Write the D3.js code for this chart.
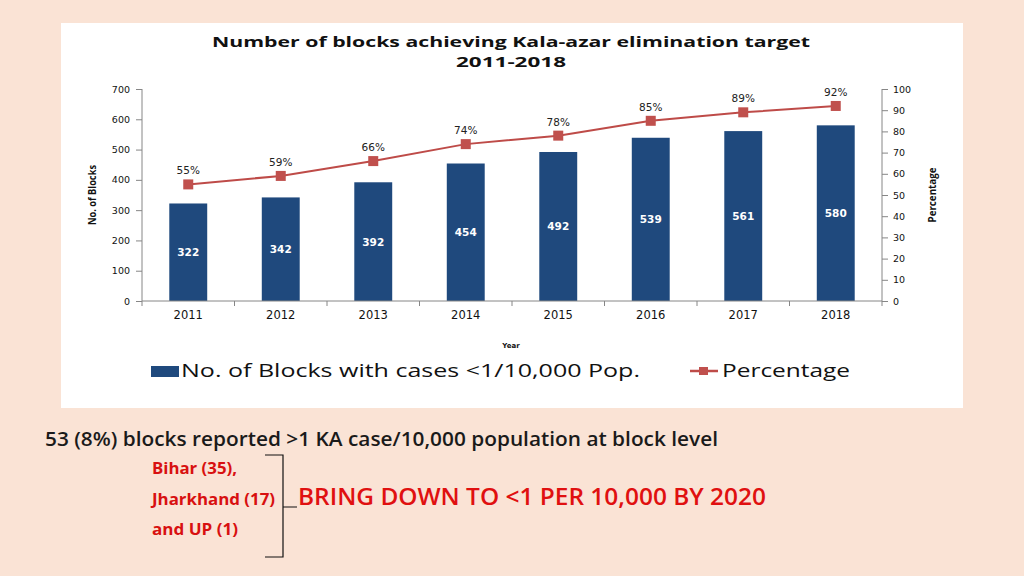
<!DOCTYPE html>
<html><head><meta charset="utf-8">
<script src="https://cdn.jsdelivr.net/npm/d3@7"></script>
<style>body{margin:0;background:#fae3d5;}svg{display:block;}</style>
</head><body><svg id="c" width="1024" height="576"></svg>
<script>
const years = ["2011","2012","2013","2014","2015","2016","2017","2018"];
const blocks = [322,342,392,454,492,539,561,580];
const percentage = [55,59,66,74,78,85,89,92];
const leftTicks = [0,100,200,300,400,500,600,700];
const rightTicks = [0,10,20,30,40,50,60,70,80,90,100];
const titleLines = ["Number of blocks achieving Kala-azar elimination target","2011-2018"];
const stateLines = ["Bihar (35),","Jharkhand (17)","and UP (1)"];

const svg = d3.select("#c");
svg.append("rect").attr("width",1024).attr("height",576).attr("fill","#fae3d5");
svg.append("rect").attr("x",61).attr("y",23).attr("width",902).attr("height",385).attr("fill","#ffffff");

const x = d3.scaleBand().domain(years).range([142,882]).paddingInner(0.59).paddingOuter(0.295);
const xb = d3.scaleBand().domain(years).range([142,882]);
const yL = d3.scaleLinear().domain([0,700]).range([301,89]);
const yR = d3.scaleLinear().domain([0,100]).range([301,89]);

// title
svg.append("g").selectAll("text").data(titleLines).join("text")
  .attr("x",511).attr("y",(d,i)=>47+i*20).attr("text-anchor","middle")
  .attr("font-family","Open Sans, sans-serif").attr("font-weight","bold").attr("font-size",15)
  .attr("fill","#111")
  .attr("textLength",(d,i)=>i===0?598:110).attr("lengthAdjust","spacingAndGlyphs")
  .text(d=>d);

// bars
svg.append("g").selectAll("rect").data(blocks).join("rect")
  .attr("x",(d,i)=>x(years[i])).attr("width",x.bandwidth())
  .attr("y",d=>yL(d)).attr("height",d=>yL(0)-yL(d)).attr("fill","#1f497d");
svg.append("g").selectAll("text").data(blocks).join("text")
  .attr("x",(d,i)=>x(years[i])+x.bandwidth()/2).attr("y",d=>(yL(d)+yL(0))/2+4)
  .attr("text-anchor","middle").attr("font-family","DejaVu Sans, Verdana, sans-serif")
  .attr("font-weight","bold").attr("font-size",10.5).attr("fill","#fff").text(d=>d);

// axes
const axL = d3.axisLeft(yL).tickValues(leftTicks).tickSize(6).tickPadding(6);
const gL = svg.append("g").attr("transform","translate(142,0)").call(axL);
const axR = d3.axisRight(yR).tickValues(rightTicks).tickSize(6).tickPadding(5);
const gR = svg.append("g").attr("transform","translate(882,0)").call(axR);
const axB = d3.axisBottom(xb).tickSize(0).tickPadding(10);
const gB = svg.append("g").attr("transform","translate(0,301)").call(axB);
gB.selectAll(".tick line").remove();
gB.append("g").selectAll("line").data(years.concat(["end"])).join("line")
  .attr("x1",(d,i)=>142+i*xb.step()).attr("x2",(d,i)=>142+i*xb.step())
  .attr("y1",0).attr("y2",5).attr("stroke","#868686");
[gL,gR,gB].forEach(g=>{
  g.select(".domain").attr("stroke","#868686");
  g.selectAll(".tick line").attr("stroke","#868686");
  g.selectAll("text").attr("font-family","DejaVu Sans, Verdana, sans-serif").attr("fill","#111");
});
gL.selectAll("text").attr("font-size",9.5);
gR.selectAll("text").attr("font-size",9.5);
gB.selectAll("text").attr("font-size",11.5);
gL.select(".domain").attr("d","M0,89V301");
gR.select(".domain").attr("d","M0,89V301");
gB.select(".domain").attr("d","M142,0H882");

// axis titles
svg.append("text").attr("transform","translate(96,195) rotate(-90)").attr("text-anchor","middle")
  .attr("font-family","Liberation Sans Narrow, Open Sans, sans-serif").attr("font-weight","bold")
  .attr("font-size",11).attr("fill","#111").attr("textLength",60).attr("lengthAdjust","spacingAndGlyphs").text("No. of Blocks");
svg.append("text").attr("transform","translate(936,195) rotate(-90)").attr("text-anchor","middle")
  .attr("font-family","Liberation Sans Narrow, Open Sans, sans-serif").attr("font-weight","bold")
  .attr("font-size",11).attr("fill","#111").attr("textLength",55).attr("lengthAdjust","spacingAndGlyphs").text("Percentage");
svg.append("text").attr("x",511).attr("y",348).attr("text-anchor","middle")
  .attr("font-family","DejaVu Sans, sans-serif").attr("font-weight","bold").attr("font-size",7).attr("fill","#111").text("Year");

// line
const line = d3.line().x((d,i)=>xb(years[i])+xb.bandwidth()/2).y(d=>yR(d));
svg.append("path").datum(percentage).attr("d",line).attr("fill","none").attr("stroke","#be4b48").attr("stroke-width",2);
svg.append("g").selectAll("rect").data(percentage).join("rect")
  .attr("x",(d,i)=>xb(years[i])+xb.bandwidth()/2-5).attr("y",d=>yR(d)-5)
  .attr("width",10).attr("height",10).attr("fill","#c0504d");
svg.append("g").selectAll("text").data(percentage).join("text")
  .attr("x",(d,i)=>xb(years[i])+xb.bandwidth()/2).attr("y",d=>yR(d)-10)
  .attr("text-anchor","middle").attr("font-family","DejaVu Sans, Verdana, sans-serif")
  .attr("font-size",10.5).attr("fill","#222").text(d=>d+"%");

// legend
svg.append("rect").attr("x",151).attr("y",366).attr("width",28).attr("height",11).attr("fill","#1f497d");
svg.append("text").attr("x",181).attr("y",377).attr("font-family","Open Sans, sans-serif").attr("font-size",18)
  .attr("fill","#111").attr("textLength",459).attr("lengthAdjust","spacingAndGlyphs").text("No. of Blocks with cases <1/10,000 Pop.");
svg.append("line").attr("x1",690).attr("x2",718).attr("y1",371).attr("y2",371).attr("stroke","#be4b48").attr("stroke-width",2.5);
svg.append("rect").attr("x",699).attr("y",367).attr("width",9).attr("height",8).attr("fill","#c0504d");
svg.append("text").attr("x",722).attr("y",377).attr("font-family","Open Sans, sans-serif").attr("font-size",18)
  .attr("fill","#111").attr("textLength",128).attr("lengthAdjust","spacingAndGlyphs").text("Percentage");

// bottom notes
svg.append("text").attr("x",45).attr("y",446).attr("font-family","Open Sans, sans-serif").attr("font-weight",600)
  .attr("font-size",19).attr("fill","#1a1a1a").attr("textLength",673).attr("lengthAdjust","spacingAndGlyphs")
  .text("53 (8%) blocks reported >1 KA case/10,000 population at block level");
svg.append("g").selectAll("text").data(stateLines).join("text")
  .attr("x",152).attr("y",(d,i)=>474+i*30.5).attr("font-family","Liberation Sans Narrow, Open Sans, sans-serif")
  .attr("font-weight","bold").attr("font-size",16).attr("fill","#d81010")
  .attr("textLength",(d,i)=>[85,123,86][i]).attr("lengthAdjust","spacingAndGlyphs").text(d=>d);
svg.append("path").attr("d","M265,455H283V557H265M283,507H297").attr("fill","none").attr("stroke","#111").attr("stroke-width",1.2);
svg.append("text").attr("x",298).attr("y",505).attr("font-family","Open Sans, sans-serif").attr("font-weight",600)
  .attr("font-size",23).attr("fill","#e01010").attr("textLength",468).attr("lengthAdjust","spacingAndGlyphs")
  .text("BRING DOWN TO <1 PER 10,000 BY 2020");
</script></body></html>
